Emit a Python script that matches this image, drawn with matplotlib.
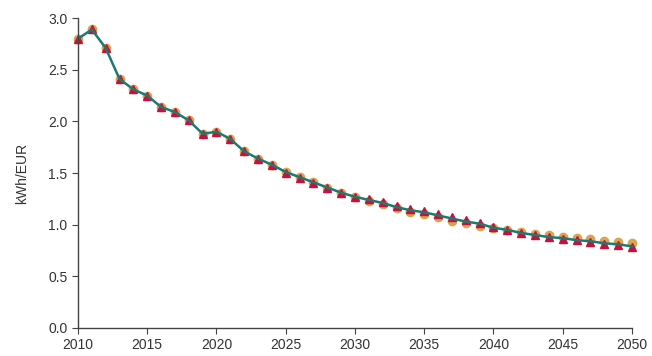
import numpy as np
import matplotlib; matplotlib.use("Agg")
import matplotlib.pyplot as plt

plt.rcParams.update({
    "font.family": "sans-serif", "font.sans-serif": ["Liberation Sans", "DejaVu Sans"],
    "font.size": 10,
})

years = list(range(2010, 2051))
# central path (teal line)
central = [2.80, 2.89, 2.71, 2.41, 2.31, 2.25, 2.14, 2.09, 2.01, 1.88,
           1.90, 1.83, 1.71, 1.64, 1.58, 1.51, 1.46, 1.41, 1.36, 1.31,
           1.27, 1.24, 1.21, 1.17, 1.14, 1.12, 1.09, 1.06, 1.03, 1.01,
           0.97, 0.95, 0.92, 0.90, 0.88, 0.87, 0.85, 0.84, 0.82, 0.81, 0.79]
# circle series (orange)
circ = [2.80, 2.89, 2.71, 2.41, 2.31, 2.25, 2.14, 2.09, 2.01, 1.88,
        1.90, 1.83, 1.71, 1.64, 1.58, 1.51, 1.46, 1.41, 1.36, 1.31,
        1.27, 1.23, 1.20, 1.16, 1.12, 1.10, 1.07, 1.04, 1.02, 0.99,
        0.97, 0.95, 0.93, 0.91, 0.90, 0.88, 0.87, 0.86, 0.84, 0.83, 0.82]
# triangle series (red)
tri = [2.80, 2.89, 2.71, 2.41, 2.31, 2.25, 2.14, 2.09, 2.01, 1.88,
       1.90, 1.83, 1.71, 1.64, 1.58, 1.50, 1.45, 1.40, 1.36, 1.31,
       1.27, 1.25, 1.22, 1.18, 1.15, 1.13, 1.10, 1.07, 1.05, 1.02,
       0.98, 0.95, 0.92, 0.90, 0.88, 0.86, 0.85, 0.83, 0.81, 0.80, 0.78]

fig = plt.figure(figsize=(6.52, 3.56), dpi=100)
ax = fig.add_axes([0.1196, 0.0787, 0.8497, 0.8704])

ax.plot(years, circ, ls="none", marker="o", ms=6, color="#D9A54E", mec="#D9A54E", clip_on=False)
ax.plot(years, tri, ls="none", marker="^", ms=6, color="#C8103E", mec="#C8103E", clip_on=False)
ax.plot(years, central, color="#1D7A72", lw=1.8, clip_on=False)

ax.set_xlim(2010, 2050)
ax.set_ylim(0, 3.0)
ax.set_xticks(range(2010, 2051, 5))
ax.set_yticks(np.arange(0, 3.01, 0.5))
ax.yaxis.set_major_formatter(plt.FormatStrFormatter("%.1f"))
ax.set_ylabel("kWh/EUR", color="#333333", labelpad=14)

for s in ("top", "right"):
    ax.spines[s].set_visible(False)
for s in ("left", "bottom"):
    ax.spines[s].set_color("#444444")
    ax.spines[s].set_linewidth(1.0)
ax.tick_params(direction="out", length=4, color="#444444", labelcolor="#333333", labelsize=10)

fig.savefig("out.png", dpi=100)
